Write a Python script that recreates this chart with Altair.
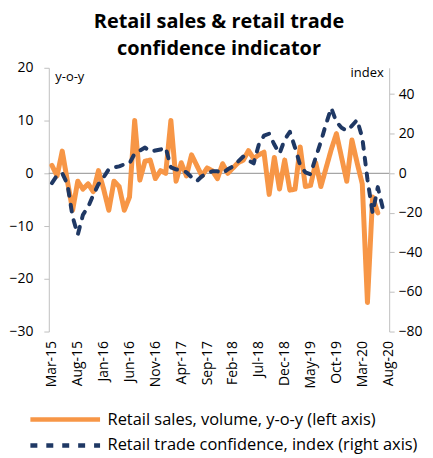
import altair as alt
import pandas as pd

tick_labels = ["Mar-15", "Aug-15", "Jan-16", "Jun-16", "Nov-16", "Apr-17", "Sep-17",
               "Feb-18", "Jul-18", "Dec-18", "May-19", "Oct-19", "Mar-20", "Aug-20"]

# monthly values starting Mar-15
retail_sales = [1.5, -0.5, 4.2, -1.5, -7, -1.5, -3, -2, -3.5, 0.5,
                -3, -7, -1.5, -2.5, -7, -4.5, 10, -1.3, 2.3, 2.5,
                -1, 0.5, 0, 10, -1.5, 2, -0.5, 3.5, 1.5, -0.5,
                1, 0.5, -1, 1.8, 0, 1, 2, 2.5, 4.3, 2.8,
                3.5, 4, -4, 3, -3, 2.5, -3.2, -3, 5, -2.5,
                -2.3, 2, -2.5, 1, 4.5, 7.5, 3, -1.5, 6.3, 2,
                -2, -24.5, -4.5, -7.5]

confidence = [-5, -1, 0, -5.5, -22, -31, -21, -17, -11, -5.5,
              -2, 2, 3, 3.5, 4.5, 5, 10, 11.5, 13, 11,
              11.5, 12, 13, 3, 2, 1.5, 0.5, -2, -4, -1.5,
              0, 1, 1, 0, 2, 3.5, 6, 8.5, 6.5, 5,
              14.5, 19, 20, 14.5, 10, 17, 21, 13, 4, 0.5,
              -0.5, 8, 16, 25, 33, 26, 23, 21.5, 24, 27,
              18, -3, -20, -7, -18]

S1 = "Retail sales, volume, y-o-y (left axis)"
S2 = "Retail trade confidence, index (right axis)"

df1 = pd.DataFrame({"m": list(range(len(retail_sales))), "v": retail_sales, "series": S1})
df2 = pd.DataFrame({"m": list(range(len(confidence))), "v": confidence, "series": S2})
zero = pd.DataFrame({"z": [0]})

FONT = "Open Sans"
AXC = "#BFBFBF"

label_arr = "[" + ",".join("'%s'" % t for t in tick_labels) + "]"
xenc = alt.X("m:Q",
             scale=alt.Scale(domain=[-0.6, 65.2], nice=False, zero=False),
             axis=alt.Axis(values=list(range(0, 66, 5)),
                           labelExpr=label_arr + "[round(datum.value/5)]",
                           labelAngle=-90, ticks=False, domain=False, grid=False,
                           labelFontSize=14, labelPadding=9, labelColor="#000000",
                           labelFont=FONT, title=None))

color = alt.Color("series:N",
                  scale=alt.Scale(domain=[S1, S2], range=["#F79646", "#1F3864"]),
                  legend=alt.Legend(title=None))
dash = alt.StrokeDash("series:N",
                      scale=alt.Scale(domain=[S1, S2], range=[[1, 0], [7, 9]]),
                      legend=alt.Legend(title=None))

rule = alt.Chart(zero).mark_rule(color="#A6A6A6", strokeWidth=1.2).encode(
    y=alt.Y("z:Q", scale=alt.Scale(domain=[-30, 20], nice=False), axis=None)
)

left = alt.Chart(df1).mark_line(strokeWidth=5, strokeJoin="round", strokeCap="round").encode(
    x=xenc,
    y=alt.Y("v:Q", scale=alt.Scale(domain=[-30, 20], nice=False),
            axis=alt.Axis(orient="left", values=[-30, -20, -10, 0, 10, 20], grid=False,
                          domainColor=AXC, tickColor=AXC, tickSize=5,
                          labelFontSize=14, labelPadding=11, labelFont=FONT, labelColor="#000000",
                          title="y-o-y", titleAngle=0, titleX=6, titleY=9, titleAlign="left",
                          titleBaseline="middle", titleFontWeight="normal", titleFontSize=13,
                          titleFont=FONT, titleColor="#000000")),
    color=color, strokeDash=dash,
)

right = alt.Chart(df2).mark_line(strokeWidth=4, strokeJoin="round", strokeCap="round").encode(
    x=xenc,
    y=alt.Y("v:Q", scale=alt.Scale(domain=[-80, 53.333], nice=False),
            axis=alt.Axis(orient="right", values=[-80, -60, -40, -20, 0, 20, 40], grid=False,
                          domainColor=AXC, tickColor=AXC, tickSize=5,
                          labelFontSize=14, labelPadding=4, labelFont=FONT, labelColor="#000000",
                          title="index", titleAngle=0, titleX=-6, titleY=5, titleAlign="right",
                          titleBaseline="middle", titleFontWeight="normal", titleFontSize=13,
                          titleFont=FONT, titleColor="#000000")),
    color=color, strokeDash=dash,
)

chart = alt.layer(rule, left, right).resolve_scale(y="independent").properties(
    width=342, height=265,
    autosize=alt.AutoSizeParams(type="none"),
    padding={"left": 41, "top": 59, "right": 36, "bottom": 126},
    title=alt.Title(["Retail sales & retail trade", "confidence indicator"],
                    fontSize=20, fontWeight="bold", font=FONT, anchor="middle",
                    lineHeight=27, offset=2, color="#000000"),
).configure_view(stroke=None).configure_legend(
    orient="none", legendX=7, legendY=344, symbolType="M-5,0L5,0", symbolSize=196,
    symbolStrokeWidth=4.5, labelFontSize=16.5, labelFont=FONT, labelColor="#000000",
    labelOffset=33, rowPadding=7, labelLimit=400,
)

chart.save("out.html", embed_options={"renderer": "svg", "actions": False})
